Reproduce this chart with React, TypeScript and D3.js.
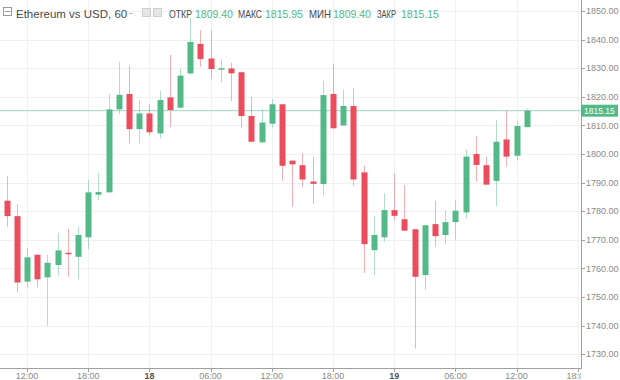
import React from "react";
import * as d3 from "d3";

const W = 620;
const H = 380;

const openP = [1783.7, 1778.3, 1755.4, 1764.8, 1756.9, 1761.2, 1765.5, 1764.1, 1770.9, 1785.8, 1786.6, 1815.6, 1821.0, 1808.7, 1814.2, 1807.2, 1819.8, 1816.2, 1828.2, 1838.5, 1833.4, 1829.5, 1829.9, 1828.6, 1813.3, 1804.1, 1810.6, 1817.4, 1797.7, 1796.1, 1790.4, 1789.5, 1821.0, 1810.0, 1816.8, 1793.6, 1766.4, 1770.9, 1780.4, 1777.2, 1773.7, 1757.7, 1775.5, 1771.7, 1776.2, 1779.6, 1800.0, 1796.1, 1790.6, 1805.1, 1799.4, 1809.4];
const highP = [1792.4, 1782.5, 1767.0, 1765.0, 1764.7, 1772.5, 1773.8, 1774.6, 1790.9, 1793.5, 1821.0, 1832.3, 1830.9, 1818.9, 1817.5, 1822.1, 1834.6, 1829.9, 1847.5, 1843.3, 1843.3, 1833.1, 1831.9, 1828.8, 1820.0, 1815.6, 1819.2, 1817.4, 1797.7, 1800.2, 1799.1, 1825.6, 1831.5, 1822.4, 1823.0, 1795.9, 1778.3, 1786.3, 1793.2, 1789.2, 1773.7, 1775.1, 1783.7, 1780.2, 1783.9, 1801.6, 1806.3, 1799.1, 1811.9, 1815.2, 1811.7, 1815.95];
const lowP = [1774.6, 1751.6, 1753.4, 1753.4, 1740.0, 1757.5, 1757.1, 1756.2, 1766.8, 1783.9, 1786.6, 1814.0, 1803.7, 1803.7, 1806.6, 1805.5, 1809.3, 1816.0, 1827.6, 1830.5, 1826.5, 1825.0, 1818.5, 1809.3, 1804.3, 1803.9, 1809.3, 1790.7, 1781.6, 1788.6, 1782.5, 1785.5, 1809.0, 1810.0, 1788.8, 1758.5, 1757.7, 1769.4, 1776.9, 1773.2, 1732.0, 1752.5, 1767.6, 1768.5, 1769.9, 1777.5, 1790.3, 1789.3, 1781.8, 1795.6, 1797.7, 1809.4];
const closeP = [1778.3, 1755.1, 1763.9, 1756.2, 1762.0, 1766.3, 1765.0, 1771.7, 1786.6, 1786.7, 1815.6, 1820.7, 1808.7, 1814.2, 1807.6, 1818.9, 1815.4, 1827.4, 1839.2, 1833.2, 1829.7, 1830.0, 1828.2, 1813.3, 1804.3, 1811.0, 1817.4, 1795.9, 1796.4, 1791.1, 1789.6, 1820.6, 1809.0, 1816.8, 1791.1, 1768.5, 1771.7, 1780.4, 1778.4, 1773.2, 1757.1, 1775.1, 1771.3, 1776.2, 1780.2, 1799.1, 1796.2, 1789.3, 1804.3, 1799.1, 1809.8, 1815.15];

const startTime = Date.UTC(2021, 1, 17, 10);
const endTime = Date.UTC(2021, 1, 19, 18);
const priceTicks = [1730, 1740, 1750, 1760, 1770, 1780, 1790, 1800, 1810, 1820, 1830, 1840, 1850];
const lastPrice = 1815.15;
const legendTitle = "Ethereum vs USD, 60";
const legendLabels = ["ОТКР", "МАКС", "МИН", "ЗАКР"];
const legendValues = ["1809.40", "1815.95", "1809.40", "1815.15"];

const GREEN = "#53b987";
const RED = "#eb4d5c";
const GRID = "#eef0f4";
const AXIS = "#a0a0a0";
const FONT = "'Liberation Sans', Arial, sans-serif";

export default function App() {
  const plotRight = 581;
  const plotBottom = 368;
  const x = d3.scaleUtc().domain([new Date(startTime), new Date(endTime)]).range([6.6, 577.8]);
  const y = d3.scaleLinear().domain([1730, 1850]).range([354.3, 11]);
  const times = openP.map((_, i) => new Date(startTime + i * 3600 * 1000));
  const timeTicks = d3.utcHour.every(6)!.range(new Date(startTime), new Date(endTime + 1));
  const fmtTime = (d: Date) => (d.getUTCHours() === 0 ? d3.utcFormat("%-d")(d) : d3.utcFormat("%H:%M")(d));
  const bw = 6;

  const legendX = [169, 195, 238, 265, 309, 333, 377, 401];
  const labelW = [23, 24, 22, 19];

  return (
    <svg width={W} height={H} style={{ position: "absolute", left: 0, top: 0, background: "#fff" }}>
      <defs>
        <clipPath id="plotClip">
          <rect x={0} y={0} width={plotRight} height={plotBottom} />
        </clipPath>
        <clipPath id="xAxisClip">
          <rect x={0} y={plotBottom} width={plotRight} height={H - plotBottom} />
        </clipPath>
      </defs>
      <rect x={0} y={0} width={W} height={H} fill="#fff" />
      {/* grid */}
      <g>
        {priceTicks.map((p) => (
          <line key={p} x1={0} x2={plotRight} y1={Math.round(y(p)) + 0.5} y2={Math.round(y(p)) + 0.5} stroke={GRID} strokeWidth={1} />
        ))}
        {timeTicks.map((t, i) => (
          <line key={i} x1={Math.round(x(t)) + 0.5} x2={Math.round(x(t)) + 0.5} y1={0} y2={plotBottom} stroke={GRID} strokeWidth={1} />
        ))}
      </g>
      {/* last price line */}
      <line x1={0} x2={plotRight} y1={y(lastPrice)} y2={y(lastPrice)} stroke="#9ed6bf" strokeWidth={1} />
      {/* candles */}
      <g clipPath="url(#plotClip)">
        {times.map((t, i) => {
          const up = closeP[i] >= openP[i];
          const c = up ? GREEN : RED;
          const cx = Math.round(x(t)) + 0.5;
          const top = y(Math.max(openP[i], closeP[i]));
          const bot = y(Math.min(openP[i], closeP[i]));
          return (
            <g key={i}>
              <line x1={cx} x2={cx} y1={y(highP[i])} y2={y(lowP[i])} stroke={c} strokeOpacity={0.45} strokeWidth={1} />
              <rect x={cx - bw / 2} y={top} width={bw} height={Math.max(1.5, bot - top)} fill={c} />
            </g>
          );
        })}
      </g>
      {/* axes */}
      <line x1={plotRight + 0.5} x2={plotRight + 0.5} y1={0} y2={plotBottom + 1} stroke={AXIS} strokeWidth={1} />
      <line x1={0} x2={plotRight + 1} y1={plotBottom + 0.5} y2={plotBottom + 0.5} stroke={AXIS} strokeWidth={1} />
      {priceTicks.map((p) => (
        <g key={p}>
          <line x1={plotRight + 1} x2={plotRight + 4} y1={Math.round(y(p)) + 0.5} y2={Math.round(y(p)) + 0.5} stroke={AXIS} />
          <text x={586} y={y(p)} dy="0.35em" fontSize={9} fontFamily={FONT} fill="#8a8a8a">
            {d3.format(".2f")(p)}
          </text>
        </g>
      ))}
      <g clipPath="url(#xAxisClip)">
        {timeTicks.map((t, i) => {
          const day = t.getUTCHours() === 0;
          return (
            <g key={i}>
              <line x1={Math.round(x(t)) + 0.5} x2={Math.round(x(t)) + 0.5} y1={plotBottom + 1} y2={plotBottom + 4} stroke={AXIS} />
              <text x={x(t)} y={379} textAnchor="middle" fontSize={9} fontFamily={FONT} fill={day ? "#555" : "#8a8a8a"} fontWeight={day ? "bold" : "normal"}>
                {fmtTime(t)}
              </text>
            </g>
          );
        })}
      </g>
      {/* last price label */}
      <rect x={plotRight} y={y(lastPrice) - 6} width={37} height={12} fill={GREEN} />
      <text x={584} y={y(lastPrice)} dy="0.35em" fontSize={8.5} fontFamily={FONT} fill="#fff">
        {d3.format(".2f")(lastPrice)}
      </text>
      {/* legend */}
      <g>
        <rect x={3.5} y={7.5} width={8} height={8} fill="none" stroke="#999" strokeWidth={1} />
        <line x1={5} x2={10} y1={11.5} y2={11.5} stroke="#999" />
        <text x={16} y={18} fontSize={11.5} fontFamily={FONT} fill="#4a4a4a">
          {legendTitle}
        </text>
        <line x1={129} x2={133} y1={13.5} y2={13.5} stroke="#bbb" />
        <rect x={142.5} y={8.5} width={8} height={8} fill="#e6e6e6" stroke="#cfcfcf" />
        <rect x={153.5} y={8.5} width={8} height={8} fill="#e6e6e6" stroke="#cfcfcf" />
        {legendLabels.map((l, i) => (
          <g key={l}>
            <text x={legendX[i * 2]} y={18} fontSize={10.5} fontFamily={FONT} fill="#4a4a4a" textLength={labelW[i]} lengthAdjust="spacingAndGlyphs">
              {l}
            </text>
            <text x={legendX[i * 2 + 1]} y={18} fontSize={10.5} fontFamily={FONT} fill={GREEN}>
              {legendValues[i]}
            </text>
          </g>
        ))}
      </g>
    </svg>
  );
}
